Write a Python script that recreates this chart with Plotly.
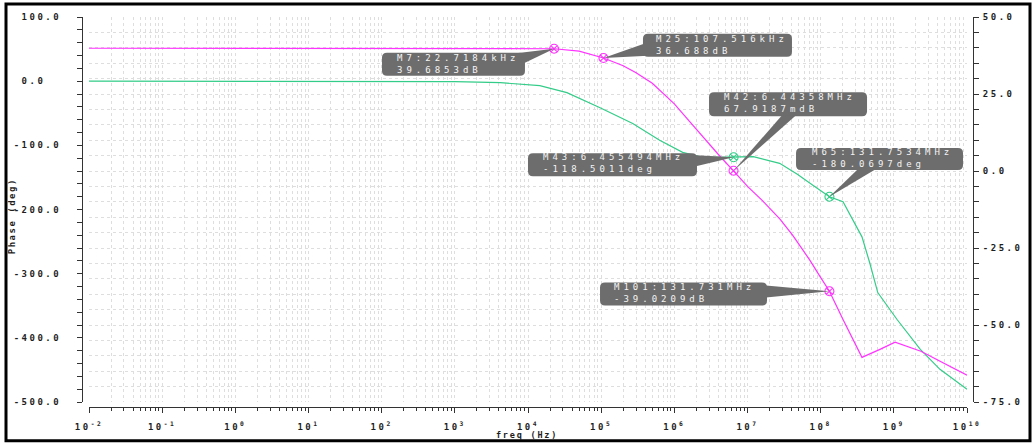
import math
import plotly.graph_objects as go

# ---------------- data ----------------
# open-loop gain (dB, right axis)
gain_freq_hz = [1e-2, 1e2, 1e3, 1e4, 22718.4, 5e4, 107516, 2e5, 3e5, 5e5, 1e6,
                1.6e6, 2.8e6, 4.2e6, 6.44358e6, 1e7, 1.6e7, 2.78e7, 4.18e7, 7.14e7,
                9.77e7, 1.31731e8, 2.02e8, 3.13e8, 3.67e8, 6.46e8, 1.04e9, 2.34e9,
                4.27e9, 1e10]
gain_db = [39.86, 39.86, 39.85, 39.82, 39.6853, 38.9, 36.688, 34.2, 31.9, 28.5, 21.8,
           16.2, 9.5, 4.8, 0.0679187, -5.0, -9.6, -15.6, -21.0, -29.0,
           -34.2, -39.0209, -48.2, -57.2, -60.5, -57.9, -55.6, -58.5,
           -61.8, -66.3]

# open-loop phase (deg, left axis)
phase_freq_hz = [1e-2, 1e2, 1e3, 4.2e3, 1.45e4, 3.4e4, 9.5e4, 2.7e5, 6.3e5, 1.3e6,
                 2.2e6, 3.5e6, 6.455494e6, 1.2e7, 2.75e7, 4.8e7, 8e7, 1.317534e8,
                 2.02e8, 3.67e8, 4.68e8, 6.03e8, 1.1e9, 2.3e9, 4.27e9, 1e10]
phase_deg = [0.0, -0.1, -0.6, -2.3, -7.0, -17.8, -41.0, -66.0, -92.0, -111.0,
             -117.5, -118.6, -118.5011, -117.5, -128.0, -145.0, -163.0, -180.0697,
             -188.0, -242.6, -283.0, -329.5, -371.0, -418.0, -449.0, -480.0]

# markers placed on the curves
marker_names = ["M7", "M25", "M42", "M101", "M43", "M65"]
marker_freq_hz = [22718.4, 107516, 6.44358e6, 131.731e6, 6.455494e6, 131.7534e6]
marker_value = [39.6853, 36.688, 0.0679187, -39.0209, -118.5011, -180.0697]
marker_trace = ["gain", "gain", "gain", "gain", "phase", "phase"]
marker_freq_text = ["22.7184kHz", "107.516kHz", "6.44358MHz", "131.731MHz",
                    "6.455494MHz", "131.7534MHz"]
marker_value_text = ["39.6853dB", "36.688dB", "67.9187mdB", "-39.0209dB",
                     "-118.5011deg", "-180.0697deg"]

# axis ticks
x_decades = list(range(-2, 11))
x_tick_text = [f"10<sup>{k}</sup>" for k in x_decades]
phase_ticks = [100, 0, -100, -200, -300, -400, -500]
phase_tick_text = ["100.0", "0.0\u00a0\u00a0", "-100.0", "-200.0", "-300.0",
                   "-400.0", "-500.0"]
db_ticks = [50, 25, 0, -25, -50, -75]
db_tick_text = ["50.0", "25.0", "0.0", "-25.0", "-50.0", "-75.0"]

# ---------------- geometry (pixels) ----------------
W, H = 1032, 444
Y_LINE_L, Y_LINE_R = 82, 973
X0_PX, X1_PX = 89, 967
TOP_PX, BOT_PX = 16, 403
XAX_PX = 408
PH_RANGE = (-500, 100)
DB_RANGE = (-75, 50)
XR = (-2, 10)

MAG = "#ff33ff"
GRN = "#33cc88"
BOX = "#6d6d6d"
GRID = "#dedede"
INK = "#1e1e1e"
MONO = "DejaVu Sans Mono"

paper_w = Y_LINE_R - Y_LINE_L
paper_h = XAX_PX - TOP_PX


def px_x(px):
    return (px - Y_LINE_L) / paper_w


def px_y(py):
    return (XAX_PX - py) / paper_h


def to_px(f, v, kind):
    x = X0_PX + (math.log10(f) - XR[0]) / (XR[1] - XR[0]) * (X1_PX - X0_PX)
    lo, hi = PH_RANGE if kind == "phase" else DB_RANGE
    y = BOT_PX - (v - lo) / (hi - lo) * (BOT_PX - TOP_PX)
    return x, y


# callout boxes: box rect, wedge base points, text top-left (all pixels)
callouts = {
    "M7":   dict(box=(382, 52, 525, 75), base=((512, 53), (525, 62)), text=(397, 52)),
    "M25":  dict(box=(643, 33, 792, 56), base=((644, 43), (648, 55)), text=(656, 33)),
    "M42":  dict(box=(709, 92, 867, 116), base=((782, 115), (796, 115)), text=(724, 92)),
    "M101": dict(box=(600, 283, 767, 306), base=((766, 286), (766, 298)), text=(614, 282)),
    "M43":  dict(box=(528, 153, 697, 176), base=((696, 155), (696, 166)), text=(543, 152)),
    "M65":  dict(box=(796, 148, 963, 170), base=((858, 169), (876, 169)), text=(812, 147)),
}


def pt(x, y):
    # pixel-mode shape paths use an upward y direction
    return f"{x:.1f},{-y:.1f}"


def rounded_rect(x0, y0, x1, y1, r):
    return (f"M {pt(x0 + r, y0)} L {pt(x1 - r, y0)} Q {pt(x1, y0)} {pt(x1, y0 + r)} "
            f"L {pt(x1, y1 - r)} Q {pt(x1, y1)} {pt(x1 - r, y1)} "
            f"L {pt(x0 + r, y1)} Q {pt(x0, y1)} {pt(x0, y1 - r)} "
            f"L {pt(x0, y0 + r)} Q {pt(x0, y0)} {pt(x0 + r, y0)} Z")


fig = go.Figure()

fig.add_trace(go.Scatter(x=phase_freq_hz, y=phase_deg, mode="lines",
                         line=dict(color=GRN, width=1.2), yaxis="y", name="phase"))
fig.add_trace(go.Scatter(x=gain_freq_hz, y=gain_db, mode="lines",
                         line=dict(color=MAG, width=1.2), yaxis="y2", name="gain"))

for kind, color, yax in (("gain", MAG, "y2"), ("phase", GRN, "y")):
    idx = [i for i, k in enumerate(marker_trace) if k == kind]
    fig.add_trace(go.Scatter(
        x=[marker_freq_hz[i] for i in idx], y=[marker_value[i] for i in idx],
        mode="markers", yaxis=yax, name=kind + " markers",
        marker=dict(symbol="circle-x-open", size=9, color=color, line=dict(width=1.1))))

shapes = []
annotations = []
for i, name in enumerate(marker_names):
    kind = marker_trace[i]
    yref = "y2" if kind == "gain" else "y"
    mx, my = to_px(marker_freq_hz[i], marker_value[i], kind)
    c = callouts[name]
    bx0, by0, bx1, by1 = c["box"]
    common = dict(type="path", xref="x", yref=yref, xsizemode="pixel", ysizemode="pixel",
                  xanchor=marker_freq_hz[i], yanchor=marker_value[i],
                  fillcolor=BOX, line=dict(width=0), layer="above")
    shapes.append(dict(path=rounded_rect(bx0 - mx, by0 - my, bx1 - mx, by1 - my, 5), **common))
    (ax1, ay1), (ax2, ay2) = c["base"]
    shapes.append(dict(path=f"M {pt(0, 0)} L {pt(ax1 - mx, ay1 - my)} L {pt(ax2 - mx, ay2 - my)} Z",
                       **common))
    tx, ty = c["text"]
    annotations.append(dict(
        xref="x", yref=yref, x=math.log10(marker_freq_hz[i]), y=marker_value[i],
        xanchor="left", yanchor="top", xshift=tx - mx, yshift=my - ty,
        text=f"{name}:{marker_freq_text[i]}<br>{marker_value_text[i]}",
        showarrow=False, align="left", borderpad=0, borderwidth=0,
        font=dict(family=MONO, size=9, color="#f4f4f4")))

# axis titles
annotations.append(dict(xref="paper", yref="paper", x=px_x(12), y=px_y(216),
                        text="Phase (deg)", textangle=-90, showarrow=False,
                        xanchor="center", yanchor="middle",
                        font=dict(family=MONO, size=9, color=INK, weight="bold")))
annotations.append(dict(xref="paper", yref="paper", x=px_x(527), y=px_y(436.5),
                        text="freq (Hz)", showarrow=False,
                        xanchor="center", yanchor="middle",
                        font=dict(family=MONO, size=8.5, color=INK, weight="bold")))

# outer frame
shapes.append(dict(type="rect", xref="paper", yref="paper",
                   x0=px_x(6), x1=px_x(1030), y0=px_y(442), y1=px_y(3),
                   line=dict(color="black", width=3), fillcolor="rgba(0,0,0,0)",
                   layer="above"))

minor_x = [m * 10 ** k for k in x_decades[:-1] for m in range(2, 10)]
tick_font = dict(family=MONO, size=9, color=INK, weight="bold")

fig.update_layout(
    width=W, height=H,
    margin=dict(l=Y_LINE_L, r=W - Y_LINE_R, t=TOP_PX, b=H - XAX_PX, pad=0),
    paper_bgcolor="white", plot_bgcolor="white",
    showlegend=False, hovermode=False,
    shapes=shapes, annotations=annotations,
    xaxis=dict(
        type="log", range=list(XR), autorange=False,
        domain=[px_x(X0_PX), px_x(X1_PX)], anchor="free", position=0,
        showline=True, linecolor="#333333", linewidth=1,
        ticks="outside", ticklen=5, tickcolor="#333333",
        tickvals=[10 ** k for k in x_decades], ticktext=x_tick_text,
        tickfont=tick_font, ticklabelstandoff=6,
        showgrid=True, gridcolor=GRID, griddash="dot", gridwidth=1,
        minor=dict(tickvals=minor_x, ticks="outside", ticklen=3, tickcolor="#333333",
                   showgrid=True, gridcolor=GRID, griddash="dot", gridwidth=1),
        zeroline=False),
    yaxis=dict(
        range=list(PH_RANGE), autorange=False,
        domain=[px_y(BOT_PX), 1], anchor="free", position=0,
        showline=True, linecolor="#333333", linewidth=1,
        ticks="outside", ticklen=5, tickcolor="#333333",
        tickvals=phase_ticks, ticktext=phase_tick_text,
        tickfont=tick_font, ticklabelstandoff=14,
        minor=dict(tickmode="linear", tick0=0, dtick=20, ticks="outside",
                   ticklen=5, tickcolor="#333333", showgrid=False),
        showgrid=False, zeroline=False),
    yaxis2=dict(
        range=list(DB_RANGE), autorange=False, overlaying="y", side="right",
        anchor="free", position=1,
        showline=True, linecolor="#333333", linewidth=1,
        ticks="outside", ticklen=5, tickcolor="#333333",
        tickvals=db_ticks, ticktext=db_tick_text,
        tickfont=tick_font, ticklabelstandoff=2,
        showgrid=True, gridcolor=GRID, griddash="dot", gridwidth=1,
        minor=dict(tickmode="linear", tick0=0, dtick=5, ticks="outside",
                   ticklen=5, tickcolor="#333333",
                   showgrid=True, gridcolor=GRID, griddash="dot", gridwidth=1),
        zeroline=False),
)

# wide letter spacing for the axis numbers and marker readouts
post = """
var s = document.createElement('style');
s.textContent = '.xtick text, .ytick text, .y2tick text {letter-spacing: 2.5px;}' +
  ' .annotation .annotation-text {letter-spacing: 4px;}' +
  ' .annotation[data-index="6"] .annotation-text {letter-spacing: 1.5px;}' +
  ' .annotation[data-index="7"] .annotation-text {letter-spacing: 1.8px;}';
document.head.appendChild(s);
"""

fig.write_html("out.html", post_script=post)
